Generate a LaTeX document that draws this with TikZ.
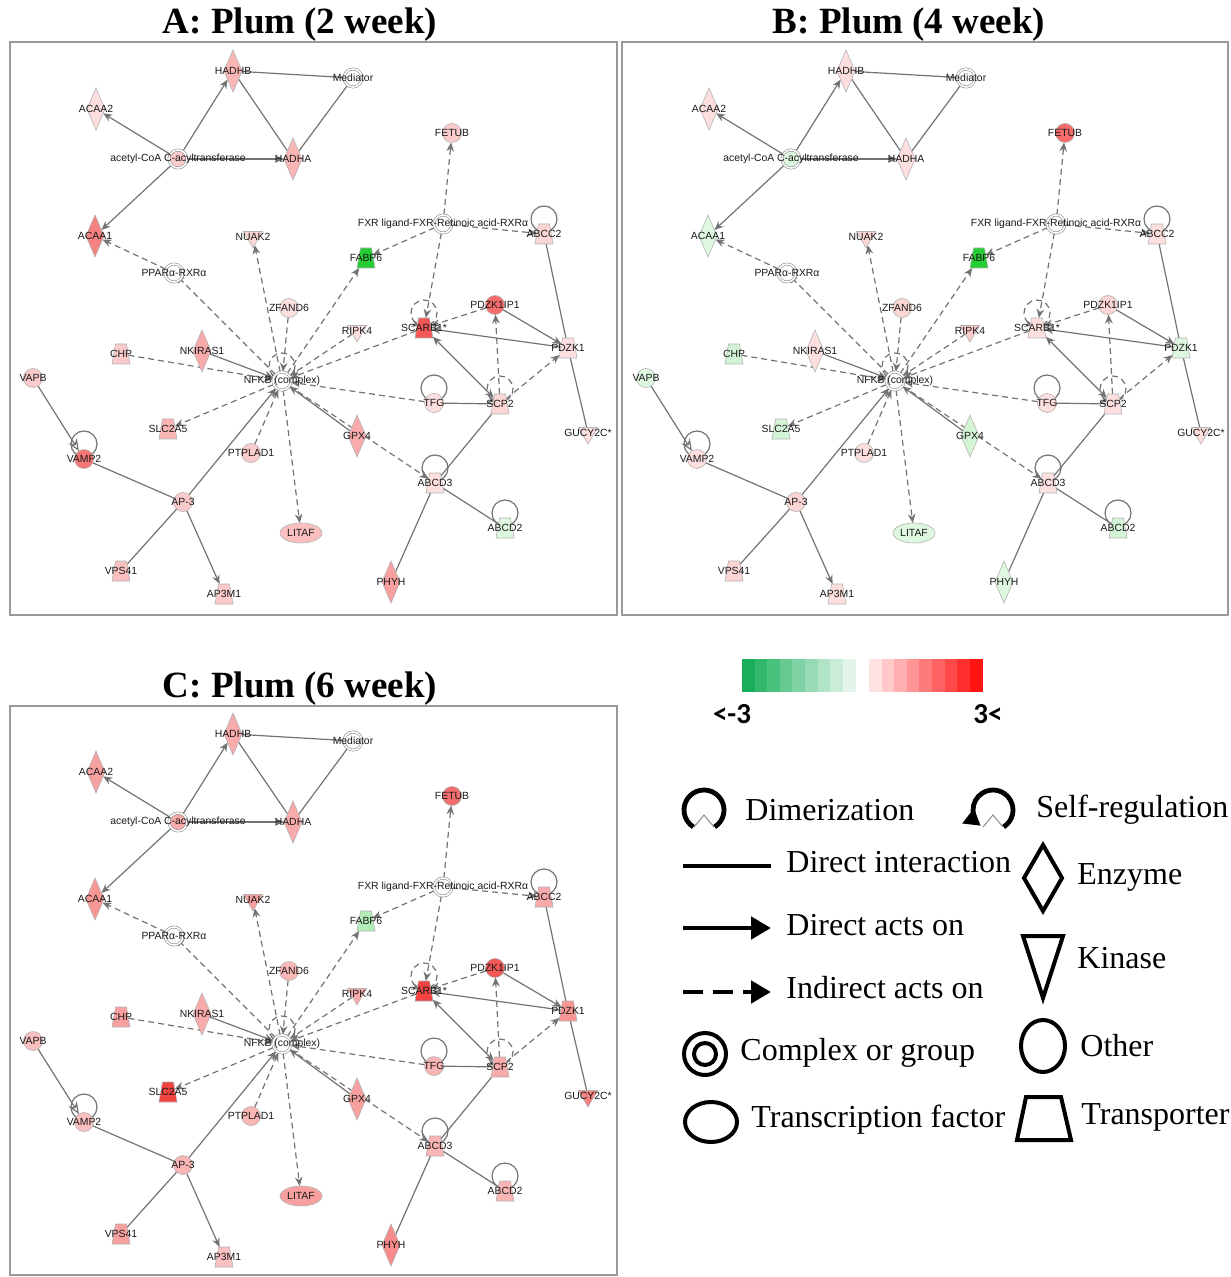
\documentclass[tikz,border=0pt]{standalone}
\usepackage{fontspec}
\setmainfont{Liberation Serif}
\setsansfont{Liberation Sans}
\newfontfamily\barfont{Carlito}
\usetikzlibrary{arrows.meta, shapes.geometric, backgrounds}

\definecolor{upred}{RGB}{240,45,45}
\definecolor{dngreen}{RGB}{35,205,50}
\definecolor{cbgreen}{RGB}{25,175,90}
\definecolor{cbred}{RGB}{255,20,20}
\newcommand{\netfont}{\sffamily\fontsize{5.2}{6}\selectfont}
\newcommand{\lgfont}{\fontsize{16}{18}\selectfont}

\tikzset{
  upreg/.style={fill=upred!#1},
  downreg/.style={fill=dngreen!#1},
  % --- per panel fold change of each gene ---
  A hadhb/.style={upreg=35}, A acaa2/.style={upreg=15}, A acoa/.style={upreg=25},
  A hadha/.style={upreg=35}, A fetub/.style={upreg=25}, A acaa1/.style={upreg=60},
  A nuak2/.style={upreg=20}, A abcc2/.style={upreg=20}, A fabp6/.style={downreg=100},
  A zfand6/.style={upreg=15}, A pdzk1ip1/.style={upreg=70}, A ripk4/.style={upreg=15},
  A scarb1/.style={upreg=80}, A chp/.style={upreg=25}, A nkiras1/.style={upreg=40},
  A pdzk1/.style={upreg=15}, A vapb/.style={upreg=25}, A tfg/.style={upreg=15},
  A scp2/.style={upreg=20}, A slc2a5/.style={upreg=35}, A gpx4/.style={upreg=40},
  A gucy2c/.style={upreg=15}, A ptplad1/.style={upreg=25}, A vamp2/.style={upreg=65},
  A abcd3/.style={upreg=15}, A ap3/.style={upreg=25}, A litaf/.style={upreg=30},
  A abcd2/.style={downreg=15}, A vps41/.style={upreg=30}, A phyh/.style={upreg=45},
  A ap3m1/.style={upreg=25},
  B hadhb/.style={upreg=15}, B acaa2/.style={upreg=15}, B acoa/.style={downreg=15},
  B hadha/.style={upreg=15}, B fetub/.style={upreg=70}, B acaa1/.style={downreg=15},
  B nuak2/.style={upreg=20}, B abcc2/.style={upreg=15}, B fabp6/.style={downreg=100},
  B zfand6/.style={upreg=20}, B pdzk1ip1/.style={upreg=20}, B ripk4/.style={upreg=25},
  B scarb1/.style={upreg=15}, B chp/.style={downreg=20}, B nkiras1/.style={upreg=15},
  B pdzk1/.style={downreg=15}, B vapb/.style={downreg=15}, B tfg/.style={upreg=15},
  B scp2/.style={upreg=15}, B slc2a5/.style={downreg=20}, B gpx4/.style={downreg=20},
  B gucy2c/.style={upreg=15}, B ptplad1/.style={upreg=15}, B vamp2/.style={upreg=15},
  B abcd3/.style={upreg=15}, B ap3/.style={upreg=20}, B litaf/.style={downreg=15},
  B abcd2/.style={downreg=20}, B vps41/.style={upreg=20}, B phyh/.style={downreg=15},
  B ap3m1/.style={upreg=15},
  C hadhb/.style={upreg=40}, C acaa2/.style={upreg=45}, C acoa/.style={upreg=40},
  C hadha/.style={upreg=40}, C fetub/.style={upreg=70}, C acaa1/.style={upreg=50},
  C nuak2/.style={upreg=45}, C abcc2/.style={upreg=40}, C fabp6/.style={downreg=35},
  C zfand6/.style={upreg=35}, C pdzk1ip1/.style={upreg=80}, C ripk4/.style={upreg=40},
  C scarb1/.style={upreg=90}, C chp/.style={upreg=45}, C nkiras1/.style={upreg=40},
  C pdzk1/.style={upreg=50}, C vapb/.style={upreg=30}, C tfg/.style={upreg=35},
  C scp2/.style={upreg=40}, C slc2a5/.style={upreg=90}, C gpx4/.style={upreg=45},
  C gucy2c/.style={upreg=60}, C ptplad1/.style={upreg=35}, C vamp2/.style={upreg=30},
  C abcd3/.style={upreg=35}, C ap3/.style={upreg=35}, C litaf/.style={upreg=45},
  C abcd2/.style={upreg=35}, C vps41/.style={upreg=45}, C phyh/.style={upreg=55},
  C ap3m1/.style={upreg=30},
}

% one network panel: #1 panel letter, #2/#3 shift in px
\newcommand{\plumnet}[3]{%
  \begin{scope}[shift={(#2,#3)}]
    % --- genes ---
    \node[enz, #1 hadhb, label=center:HADHB]        (#1hadhb)   at (233,71)  {};
    \node[cplx, label=center:Mediator]              (#1medi)    at (353,78)  {};
    \node[enz, #1 acaa2, label=center:ACAA2]        (#1acaa2)   at (96,109)  {};
    \node[cplx, #1 acoa, label={center:acetyl-CoA C-acyltransferase}] (#1acoa) at (178,159) {};
    \node[enz, #1 hadha, label=center:HADHA]        (#1hadha)   at (293,159) {};
    \node[oth, #1 fetub, label=center:FETUB]        (#1fetub)   at (452,133) {};
    \node[enz, #1 acaa1, label=center:ACAA1]        (#1acaa1)   at (95,236)  {};
    \node[kin, #1 nuak2, label=center:NUAK2]        (#1nuak2)   at (253,237) {};
    \node[cplx, label={center:FXR ligand-FXR-Retinoic acid-RXRα}] (#1fxr) at (443,224) {};
    \node[trans, #1 abcc2, label=center:ABCC2]      (#1abcc2)   at (544,234) {};
    \node[cplx, label=center:PPARα-RXRα]            (#1ppar)    at (174,273) {};
    \node[trans, #1 fabp6, label=center:FABP6]      (#1fabp6)   at (366,258) {};
    \node[oth, #1 zfand6, label=center:ZFAND6]      (#1zfand6)  at (289,308) {};
    \node[oth, #1 pdzk1ip1, label=center:PDZK1IP1]  (#1pdzip)   at (495,305) {};
    \node[kin, #1 ripk4, label=center:RIPK4]        (#1ripk4)   at (357,331) {};
    \node[trans, #1 scarb1, label=center:SCARB1*]   (#1scarb1)  at (424,328) {};
    \node[trans, #1 chp, label=center:CHP]          (#1chp)     at (121,354) {};
    \node[enz, #1 nkiras1, label=center:NKIRAS1]    (#1nkiras1) at (202,351) {};
    \node[trans, #1 pdzk1, label=center:PDZK1]      (#1pdzk1)   at (568,348) {};
    \node[cplx, label={center:NFKB (complex)}]      (#1nfkb)    at (282,381) {};
    \node[oth, #1 vapb, label=center:VAPB]          (#1vapb)    at (33,378)  {};
    \node[oth, #1 tfg, label=center:TFG]            (#1tfg)     at (434,403) {};
    \node[trans, #1 scp2, label=center:SCP2]        (#1scp2)    at (500,404) {};
    \node[trans, #1 slc2a5, label=center:SLC2A5]    (#1slc2a5)  at (168,429) {};
    \node[enz, #1 gpx4, label=center:GPX4]          (#1gpx4)    at (357,436) {};
    \node[kin, #1 gucy2c, label=center:GUCY2C*]     (#1gucy2c)  at (588,433) {};
    \node[oth, #1 ptplad1, label=center:PTPLAD1]    (#1ptplad1) at (251,453) {};
    \node[oth, #1 vamp2, label=center:VAMP2]        (#1vamp2)   at (84,459)  {};
    \node[trans, #1 abcd3, label=center:ABCD3]      (#1abcd3)   at (435,483) {};
    \node[oth, #1 ap3, label=center:AP-3]           (#1ap3)     at (183,502) {};
    \node[tfac, #1 litaf, label=center:LITAF]       (#1litaf)   at (301,533) {};
    \node[trans, #1 abcd2, label=center:ABCD2]      (#1abcd2)   at (505,528) {};
    \node[trans, #1 vps41, label=center:VPS41]      (#1vps41)   at (121,571) {};
    \node[enz, #1 phyh, label=center:PHYH]          (#1phyh)    at (391,582) {};
    \node[trans, #1 ap3m1, label=center:AP3M1]      (#1ap3m1)   at (224,594) {};
    % --- interactions, kept under the genes ---
    \begin{pgfonlayer}{background}
      \draw[inter] (#1hadhb) -- (#1medi);
      \draw[inter] (#1medi) -- (#1hadha);
      \draw[inter] (#1hadhb) -- (#1hadha);
      \draw[act] (#1acoa) -- (#1hadhb);
      \draw[act] (#1acoa) -- (#1acaa2);
      \draw[act] (#1acoa) -- (#1hadha);
      \draw[act] (#1acoa) -- (#1acaa1);
      \draw[ind] (#1ppar) -- (#1acaa1);
      \draw[inh] (#1nfkb) -- (#1ppar);
      \draw[ind] (#1nfkb) -- (#1nuak2);
      \draw[ind] (#1nfkb) -- (#1fabp6);
      \draw[ind] (#1zfand6) -- (#1nfkb);
      \draw[ind] (#1ripk4) -- (#1nfkb);
      \draw[ind] (#1scarb1) -- (#1nfkb);
      \draw[ind] (#1chp) -- (#1nfkb);
      \draw[act] (#1nkiras1) -- (#1nfkb);
      \draw[ind] (#1nfkb) -- (#1slc2a5);
      \draw[ind] (#1ptplad1) -- (#1nfkb);
      \draw[ind] (#1nfkb) -- (#1litaf);
      \draw[ind] (#1nfkb) -- (#1abcd3);
      \draw[act] (#1gpx4) -- (#1nfkb);
      \draw[ind] (#1tfg) -- (#1nfkb);
      \draw[act] (#1ap3) -- (#1nfkb);
      \draw[ind] (#1fxr) -- (#1fetub);
      \draw[ind] (#1fxr) -- (#1abcc2);
      \draw[ind] (#1fxr) -- (#1fabp6);
      \draw[ind] (#1fxr) -- (#1scarb1);
      \draw[inter] (#1abcc2) -- (#1pdzk1);
      \draw[inter] (#1pdzk1) -- (#1gucy2c);
      \draw[act] (#1pdzip) -- (#1pdzk1);
      \draw[act] (#1pdzk1) -- (#1scarb1);
      \draw[ind] (#1pdzip) -- (#1scarb1);
      \draw[ind] (#1scp2) -- (#1pdzip);
      \draw[ind] (#1scp2) -- (#1pdzk1);
      \draw[act, {Stealth[length=4.5pt, width=3.8pt]}-{Stealth[length=4.5pt, width=3.8pt]}] (#1scp2) -- (#1scarb1);
      \draw[inter] (#1tfg) -- (#1scp2);
      \draw[inter] (#1scp2) -- (#1abcd3);
      \draw[inter] (#1abcd3) -- (#1abcd2);
      \draw[inter] (#1abcd3) -- (#1phyh);
      \draw[inter, -{Stealth[open, fill=white, length=6pt, width=5pt]}] (#1vapb) -- (#1vamp2);
      \draw[inter] (#1vamp2) -- (#1ap3);
      \draw[inter] (#1ap3) -- (#1vps41);
      \draw[act] (#1ap3) -- (#1ap3m1);
      % self loops
      \foreach \g in {abcc2, tfg, vamp2, abcd3, abcd2}
        \draw[inter] ([yshift=7.5pt]#1\g.center) circle[radius=6.5pt];
      \foreach \g in {nfkb, scarb1, scp2}
        \draw[ind] ([yshift=7.5pt]#1\g.center) ++(-65:6.5pt)
          arc[start angle=-65, end angle=255, radius=6.5pt];
    \end{pgfonlayer}
  \end{scope}}

\begin{document}
\begin{tikzpicture}[
  x=0.5pt, y=-0.5pt,
  gene/.style={draw=black!30, line width=0.3pt, inner sep=0.5pt, outer sep=0pt},
  enz/.style={gene, diamond, minimum width=9pt, minimum height=21pt},
  oth/.style={gene, circle, minimum size=9.5pt},
  kin/.style={gene, regular polygon, regular polygon sides=3, shape border rotate=180, minimum size=11pt},
  trans/.style={gene, trapezium, trapezium left angle=72, trapezium right angle=72,
                trapezium stretches=true, minimum width=9pt, minimum height=10pt},
  tfac/.style={gene, ellipse, minimum width=21pt, minimum height=10pt},
  cplx/.style={circle, draw=black!45, line width=0.3pt, double=white, double distance=0.8pt,
               minimum size=9pt, fill=white, inner sep=0.5pt},
  every label/.style={font=\netfont, inner sep=0pt, text=black!90},
  inter/.style={draw=black!55, line width=0.6pt},
  act/.style={inter, -{Stealth[length=4.5pt, width=3.8pt]}},
  ind/.style={act, dash pattern=on 3pt off 2pt},
  inh/.style={inter, dash pattern=on 3pt off 2pt, -{Bar[width=4pt]}},
  ttl/.style={font=\bfseries\fontsize{18.5}{20}\selectfont},
  frame/.style={draw=black!40, line width=0.6pt},
  lg/.style={line width=2.4pt},
  lgtext/.style={font=\lgfont, anchor=west, inner sep=0pt},
  barlbl/.style={font=\barfont\bfseries\fontsize{14.5}{16}\selectfont},
]
\useasboundingbox (0,0) rectangle (1230,1277);

% --- titles and frames ---
\node[ttl] (ttlA) at (300,25)  {A: Plum (2 week)};
\node[ttl] (ttlB) at (909,25)  {B: Plum (4 week)};
\node[ttl] (ttlC) at (300,689) {C: Plum (6 week)};
\draw[frame] (10,42) rectangle (617,615);
\draw[frame] (622,42) rectangle (1228,615);
\draw[frame] (10,706) rectangle (617,1275);

% --- the three networks ---
\plumnet{A}{0}{0}
\plumnet{B}{613}{0}
\plumnet{C}{0}{663}

% --- colour scale ---
\foreach \i in {0,...,8} {
  \pgfmathtruncatemacro{\gp}{100-11*\i}
  \pgfmathtruncatemacro{\rp}{12+11*\i}
  \fill[cbgreen!\gp] (742+12.6*\i,659) rectangle ++(12.7,33);
  \fill[cbred!\rp] (869+12.6*\i,659) rectangle ++(12.7,33);
}
\node[barlbl] (cblow)  at (732,714) {<-3};
\node[barlbl] (cbhigh) at (988,714) {3<};

% --- legend, left column ---
\draw[lg] (704,810) ++(-58:10pt) arc[start angle=-58, end angle=238, radius=10pt];
\draw[black!45, line width=0.5pt] (694,827) -- (704,815) -- (714,827);
\node[lgtext] (ldimer) at (745,810) {Dimerization};
\draw[lg] (683,866) -- (771,866);
\node[lgtext] (ldirint) at (786,862) {Direct interaction};
\draw[lg, -{Triangle[length=10pt, width=11pt]}] (683,928) -- (771,928);
\node[lgtext] (ldiract) at (786,925) {Direct acts on};
\draw[lg, dash pattern=on 10pt off 5pt, -{Triangle[length=10pt, width=11pt]}] (683,992) -- (771,992);
\node[lgtext] (lindact) at (786,988) {Indirect acts on};
\draw[line width=2pt] (705,1054) circle[radius=10.5pt];
\draw[line width=2pt] (705,1054) circle[radius=5.5pt];
\node[lgtext] (lcplx) at (740,1053) {Complex or group};
\draw[line width=2pt] (711,1122) ellipse[x radius=13pt, y radius=10pt];
\node[lgtext] (ltf) at (751,1120) {Transcription factor};

% --- legend, right column ---
\draw[lg, -{Triangle[length=8pt, width=9pt]}] (993,810) ++(-58:10pt) arc[start angle=-58, end angle=232, radius=10pt];
\draw[black!45, line width=0.5pt] (983,827) -- (993,815) -- (1003,827);
\node[lgtext] (lself) at (1036,810) {Self-regulation};
\draw[line width=2pt, line join=miter] (1043,845) -- (1062,878) -- (1043,911) -- (1024,878) -- cycle;
\node[lgtext] (lenz) at (1077,877) {Enzyme};
\draw[line width=2pt] (1023,936) -- (1063,936) -- (1043,998) -- cycle;
\node[lgtext] (lkin) at (1077,958) {Kinase};
\draw[line width=2pt] (1043,1046) ellipse[x radius=11pt, y radius=13pt];
\node[lgtext] (loth) at (1080,1046) {Other};
\draw[line width=2pt] (1026,1097) -- (1061,1097) -- (1071,1140) -- (1017,1140) -- cycle;
\node[lgtext] (ltrans) at (1081,1117) {Transporter};
\end{tikzpicture}
\end{document}
